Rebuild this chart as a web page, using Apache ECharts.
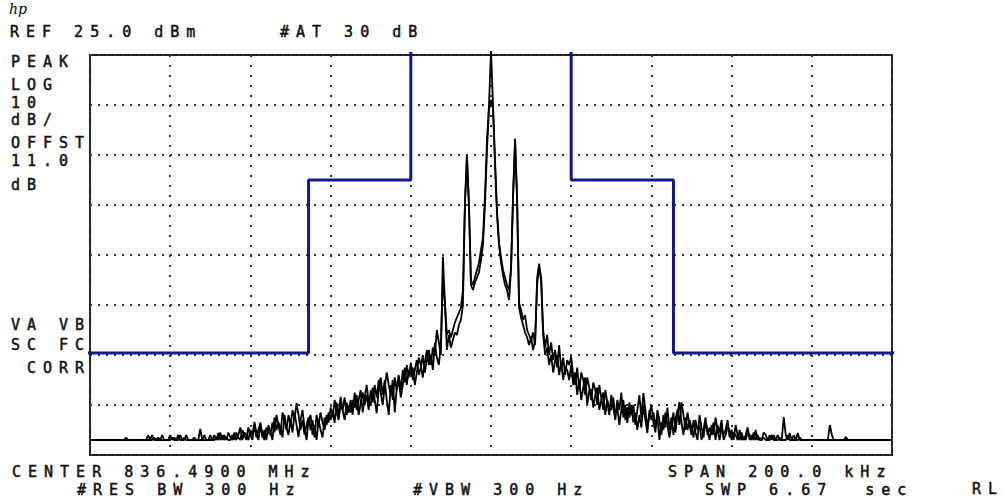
<!DOCTYPE html>
<html><head><meta charset="utf-8">
<script src="https://cdn.jsdelivr.net/npm/echarts@6/dist/echarts.min.js"></script>
<style>
html,body{margin:0;padding:0;background:#fff;}
#chart{width:1004px;height:503px;}
#chart svg text{letter-spacing:7px;}
#chart svg text[style*="italic"]{letter-spacing:0;}
</style>
</head><body>
<div id="chart"></div>
<script>
// Sweep: center 836.4900 MHz, span 200 kHz -> offsets in kHz
const freqStartKHz = -100, freqStepKHz = 0.5;

// Trace A (dBm), one value per 0.5 kHz from -100 to +100 kHz
const traceA = [
-52,-52,-52,-52,-52,-52,-52,-52,-52,-52,
-52,-52,-52,-52,-52,-52,-52,-52,-51.5,-52,
-52,-52,-52,-52,-52,-52,-52,-52,-52,-51,
-52,-51,-52,-52,-51.5,-52,-52,-52,-52,-52,
-51,-52,-51.5,-52,-52,-51,-52,-51.5,-52,-52,
-52,-52,-52,-52,-52,-49.8,-52,-52,-52,-52,
-52,-52,-51,-52,-50.6,-52,-51,-52,-51.5,-52,
-52,-51,-52,-50.5,-51.5,-52,-50,-51,-52,-49.5,
-51,-52,-49,-51.5,-50,-48.5,-51,-52,-49.5,-50.5,
-51,-48.5,-50.5,-47,-49,-51,-46.5,-48,-50,-47,
-49,-46,-48,-44.6,-47,-50,-48,-51,-49,-47.5,
-50,-48,-51.5,-47,-49,-46.5,-48.5,-50,-47,-48.5,
-45.5,-47.5,-44,-46.5,-48,-45,-46,-43.5,-47,-45,
-46.5,-44,-45.5,-43,-47,-44.5,-42.5,-45,-43,-46,
-42,-44.5,-41,-43.5,-40,-42.5,-45,-41.5,-38.5,-41,
-43,-40,-46.5,-41.5,-39,-42,-38,-40.5,-37,-39.5,
-36.5,-40,-38,-36,-39,-37.5,-35,-38.5,-36,-34,
-37,-33.5,-35,-30,-32.5,-35,-15.3,-24.5,-31,-30,
-31.5,-30,-28.5,-27.5,-26.5,-25.5,-22,-4.6,5.1,-4.6,
-20,-21,-19.5,-18,-16.5,-14,-11.5,-3,8,15,
25.8,15,4,-6,-12.5,-15.5,-18,-19.5,-21,-22,
-17.4,-3.2,8.3,-3.2,-24.6,-26,-28,-27,-30,-31,
-32,-30.5,-33,-19.6,-16.7,-19.6,-30,-33.5,-31,-35,
-32.5,-36,-34,-37.5,-33,-38,-35.5,-39,-36,-37,
-35.4,-39,-41,-37.5,-42,-38.5,-40,-43,-39.5,-41.5,
-44,-40.5,-42,-45,-41,-43.5,-46,-42,-44.5,-47,
-43,-45.5,-48,-44,-46,-42.5,-47.5,-45,-48.6,-44.5,
-47,-45,-49,-46,-43,-47.5,-42.6,-46,-49.5,-47,
-45,-48.5,-50.5,-46,-48,-51,-47,-49.5,-45.5,-50,
-47.5,-51,-48,-46,-49,-44.5,-47,-50,-46.5,-49,
-51,-48,-50.5,-52,-47,-49.5,-51.5,-48.5,-50,-52,
-49,-51,-47.5,-50,-52,-49.5,-51,-50,-48,-51.5,
-50,-52,-49,-51,-52,-50.5,-52,-51,-49.5,-52,
-51,-52,-50,-52,-51.5,-52,-50.5,-51,-52,-51,
-52,-51,-52,-52,-51.5,-52,-47.4,-51,-52,-50.6,
-52,-51,-52,-50.6,-52,-52,-52,-52,-52,-52,
-52,-52,-52,-52,-52,-52,-52,-52,-52,-49,
-51,-52,-52,-52,-52,-52,-52,-51.4,-52,-52,
-52,-52,-52,-52,-52,-52,-52,-52,-52,-52,
-52,-52,-52,-52,-52,-52,-52,-52,-52,-52,
-52
];

// Trace B (dBm), same sweep points
const traceB = [
-52,-52,-52,-52,-52,-52,-52,-52,-52,-52,
-52,-52,-52,-52,-52,-52,-52,-52,-52,-52,
-52,-52,-52,-52,-52,-52,-52,-52,-52,-52,
-52,-52,-51.5,-52,-52,-52,-51,-52,-52,-52,
-52,-51.5,-52,-52,-51,-52,-52,-52,-51,-52,
-52,-52,-51.5,-52,-52,-52,-52,-51,-52,-52,
-51,-52,-52,-51.5,-52,-50.5,-52,-51,-52,-50.5,
-51.5,-52,-50.5,-52,-51,-49.5,-52,-50.5,-51,-52,
-50,-51,-48.4,-50.5,-52,-49,-51.5,-50,-52,-49,
-50.5,-52,-47.5,-50,-48.5,-49.5,-51.5,-47,-49.5,-51,
-48,-50.5,-46.5,-49,-51.4,-48,-46,-49.5,-52,-48,
-47,-51,-49,-52,-48,-50,-51.5,-47.5,-49,-46.5,
-48,-46,-48.6,-44.5,-47,-43.4,-46,-48,-44.5,-46.5,
-44,-47,-42.5,-46,-44,-42,-46.5,-43.5,-41,-44.5,
-45,-41.5,-44,-46.6,-42,-39.5,-43,-40,-44,-47,
-41,-44,-39.5,-42,-40,-43.5,-41,-37.5,-41,-38,
-39,-37.5,-41,-38.5,-35.5,-37,-39.5,-36.5,-34,-37,
-35,-38,-32.6,-35.5,-37,-33,-20,-24.4,-34,-31,
-33.5,-32,-30.5,-31,-29,-28,-25,-5,4.5,-5.5,
-21,-22,-20.5,-19.5,-18.5,-16,-13,-5,6,14,
16,14.5,3,-7,-13,-16.5,-19,-21,-22,-24,
-18,-3.5,7.5,-4,-25.5,-27.5,-29,-30.5,-31.5,-33,
-31.5,-34,-32,-21,-17.5,-20,-31,-35,-33.5,-37,
-35,-38.5,-36,-35,-39,-36.5,-40,-37.5,-38,-40,
-37,-41,-38.5,-43,-40,-44,-41.5,-39.5,-45,-42,
-42,-45.5,-43,-41.5,-46,-44,-42.5,-47,-44,-45.5,
-46,-43.5,-47,-45.5,-49,-46,-44,-48,-45.5,-47.5,
-45,-48.5,-46.5,-50,-47,-49.5,-45,-48,-50.6,-46,
-48,-46.5,-49,-47.5,-52,-48.5,-50,-46.5,-49,-51.5,
-49,-46.5,-50.5,-47,-44.4,-48.5,-51,-47.5,-50,-48,
-49.5,-51.5,-48,-50,-49,-52,-50,-47.5,-51,-49.5,
-51,-48.5,-52,-49,-50.5,-48,-52,-51,-49.5,-50,
-52,-50.5,-51,-52,-50,-52,-51.5,-52,-50.5,-51,
-52,-50.5,-52,-51,-52,-52,-51.5,-52,-52,-52,
-51,-52,-52,-51,-52,-52,-52,-52,-51,-52,
-52,-52,-52,-52,-51.5,-52,-52,-52,-52,-52,
-52,-52,-52,-52,-52,-52,-52,-52,-52,-52,
-52,-52,-52,-52,-52,-52,-52,-52,-52,-52,
-52,-52,-52,-52,-52,-52,-52,-52,-52,-52,
-52,-52,-52,-52,-52,-52,-52,-52,-52,-52,
-52
];

// Limit line (mask), kHz offset / dBm
const limitLeftFreq  = [-100.5, -45.5, -45.5, -20, -20];
const limitLeftLevel = [-34.6, -34.6, 0, 0, 25.6];
const limitRightFreq  = [20, 20, 45.5, 45.5, 101];
const limitRightLevel = [25.6, 0, 0, -34.6, -34.6];

// Axis settings
const refLevel = 25, dbPerDiv = 10, vDivs = 8;
const spanKHz = 200, hDivs = 10;

// Annotation texts
const logoText = 'hp';
const headerTexts = ['REF 25.0 dBm', '#AT 30 dB'];
const sideTexts = ['PEAK', 'LOG', '10', 'dB/', 'OFFST', '11.0', 'dB', 'VA VB', 'SC FC', '\u00A0CORR'];
const footerTexts = ['CENTER 836.4900 MHz', 'SPAN 200.0 kHz', '#RES BW 300 Hz', '#VBW 300 Hz', 'SWP 6.67\u00A0 sec', 'RL'];

// Layout (left x, baseline y) for the texts
const headerPos = [[10, 37], [280, 37]];
const sidePos = [[11, 67], [11, 90], [11, 108], [11, 125], [11, 148], [11, 166], [11, 190], [11, 330], [11, 350], [11, 373]];
const footerPos = [[12, 477], [668, 477], [77, 495], [413, 495], [705, 495], [972, 494]];

const FONT = '15px "DejaVu Sans Mono"';
function txt(s, p) {
  return { type: 'text', x: p[0], y: p[1] - 5, silent: true,
    style: { text: s, font: FONT, fill: '#111', lineHeight: 12, align: 'left', verticalAlign: 'middle',
             textAlign: 'left', textVerticalAlign: 'middle', stroke: '#111', lineWidth: 0.5 } };
}
const graphics = [];
headerTexts.forEach((s, i) => graphics.push(txt(s, headerPos[i])));
sideTexts.forEach((s, i) => graphics.push(txt(s, sidePos[i])));
footerTexts.forEach((s, i) => graphics.push(txt(s, footerPos[i])));
graphics.push({ type: 'text', x: 9, y: 9, silent: true,
  style: { text: logoText, font: 'italic 14px "DejaVu Serif"', fill: '#000', lineHeight: 12,
           align: 'left', verticalAlign: 'middle', textAlign: 'left', textVerticalAlign: 'middle' } });

const toPairs = (arr) => arr.map((v, i) => [freqStartKHz + i * freqStepKHz, v]);
const zip = (a, b) => a.map((v, i) => [v, b[i]]);

const chart = echarts.init(document.getElementById('chart'), null, { renderer: 'svg', width: 1004, height: 503 });
chart.setOption({
  animation: false,
  backgroundColor: '#fff',
  grid: { left: 90, top: 55, width: 802, height: 400, show: true, borderColor: '#222', borderWidth: 2, backgroundColor: 'transparent' },
  xAxis: { type: 'value', min: -spanKHz / 2, max: spanKHz / 2, interval: spanKHz / hDivs,
    axisLine: { show: false }, axisTick: { show: false }, axisLabel: { show: false },
    splitLine: { show: true, lineStyle: { color: '#333', width: 2, type: [2, 8] } } },
  yAxis: { type: 'value', min: refLevel - dbPerDiv * vDivs, max: refLevel, interval: dbPerDiv,
    axisLine: { show: false }, axisTick: { show: false }, axisLabel: { show: false },
    splitLine: { show: true, lineStyle: { color: '#333', width: 2, type: [2, 6] } } },
  graphic: graphics,
  series: [
    { type: 'line', data: toPairs(traceA), symbol: 'none', clip: false, z: 3,
      lineStyle: { color: '#000', width: 1.8 } },
    { type: 'line', data: toPairs(traceB), symbol: 'none', clip: false, z: 3,
      lineStyle: { color: '#000', width: 1.8 } },
    { type: 'line', data: zip(limitLeftFreq, limitLeftLevel), symbol: 'none', clip: false, z: 4,
      lineStyle: { color: '#12188a', width: 3 } },
    { type: 'line', data: zip(limitRightFreq, limitRightLevel), symbol: 'none', clip: false, z: 4,
      lineStyle: { color: '#12188a', width: 3 } }
  ]
});
</script>
</body></html>
